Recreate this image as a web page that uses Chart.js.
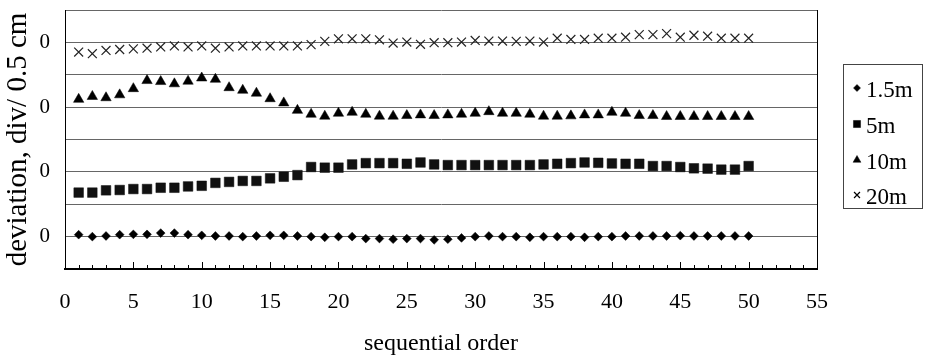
<!DOCTYPE html>
<html lang="en">
<head>
<meta charset="UTF-8">
<title>Deviation by sequential order</title>
<script src="https://cdn.jsdelivr.net/npm/chart.js"></script>
<style>
  html, body { margin: 0; padding: 0; background: #fff; }
</style>
</head>
<body>
<canvas id="devChart" width="927" height="358"></canvas>
<script>
// sequential order (x)
const order = [1, 2, 3, 4, 5, 6, 7, 8, 9, 10, 11, 12, 13, 14, 15, 16, 17, 18, 19, 20,
  21, 22, 23, 24, 25, 26, 27, 28, 29, 30, 31, 32, 33, 34, 35, 36, 37, 38, 39, 40,
  41, 42, 43, 44, 45, 46, 47, 48, 49, 50];

// each series is plotted on its own offset band (gridlines labelled "0")
const dev15 = [1.06, 1.00, 1.02, 1.06, 1.07, 1.07, 1.11, 1.11, 1.06, 1.04, 1.02, 1.02, 1.00, 1.02, 1.04, 1.04, 1.02, 1.00,
  0.98, 1.00, 1.00, 0.94, 0.94, 0.92, 0.94, 0.94, 0.90, 0.92, 0.96, 1.00, 1.02, 1.00, 1.00, 0.98, 1.00, 1.00, 1.00, 0.98, 1.00, 1.00,
  1.02, 1.02, 1.02, 1.02, 1.03, 1.02, 1.02, 1.02, 1.02, 1.02];
const dev5 = [2.36, 2.36, 2.43, 2.44, 2.47, 2.47, 2.51, 2.51, 2.55, 2.57, 2.66, 2.69, 2.72, 2.72, 2.80, 2.85, 2.90, 3.15,
  3.13, 3.13, 3.23, 3.27, 3.27, 3.27, 3.25, 3.29, 3.23, 3.21, 3.21, 3.21, 3.21, 3.21, 3.21, 3.21, 3.23, 3.25, 3.27, 3.29, 3.28, 3.26,
  3.25, 3.25, 3.18, 3.18, 3.15, 3.11, 3.10, 3.07, 3.07, 3.18];
const dev10 = [5.24, 5.33, 5.29, 5.38, 5.57, 5.82, 5.79, 5.72, 5.80, 5.90, 5.86, 5.60, 5.52, 5.43, 5.26, 5.13, 4.90, 4.78,
  4.72, 4.81, 4.84, 4.78, 4.72, 4.72, 4.74, 4.76, 4.74, 4.76, 4.78, 4.81, 4.86, 4.81, 4.81, 4.78, 4.72, 4.72, 4.73, 4.76, 4.76, 4.84,
  4.81, 4.74, 4.74, 4.71, 4.71, 4.71, 4.71, 4.71, 4.71, 4.71];
const dev20 = [6.70, 6.65, 6.75, 6.78, 6.80, 6.82, 6.86, 6.89, 6.86, 6.89, 6.82, 6.86, 6.89, 6.89, 6.89, 6.89, 6.89, 6.93,
  7.03, 7.11, 7.11, 7.11, 7.08, 6.98, 7.01, 6.94, 6.99, 6.99, 7.01, 7.06, 7.04, 7.04, 7.03, 7.04, 7.01, 7.13, 7.09, 7.09, 7.13, 7.13,
  7.16, 7.24, 7.24, 7.27, 7.16, 7.22, 7.19, 7.13, 7.13, 7.13];

const seriesNames = ['1.5m', '5m', '10m', '20m'];
const xTicks = [0, 5, 10, 15, 20, 25, 30, 35, 40, 45, 50, 55];

const serif = 'Liberation Serif';

function pts(ys) {
  return order.map((x, i) => ({ x: x, y: ys[i] }));
}

// box round the plot, inner tick marks and the boxed legend on the right
const framePlugin = {
  id: 'framePlugin',
  afterDraw(chart) {
    const ctx = chart.ctx;
    const area = chart.chartArea;
    const xs = chart.scales.x;
    ctx.save();
    ctx.strokeStyle = '#000';
    ctx.lineWidth = 1;
    ctx.beginPath();
    ctx.moveTo(area.right + 0.5, area.top);
    ctx.lineTo(area.right + 0.5, area.bottom);
    ctx.stroke();

    // minor ticks every 1, longer ones every 5, pointing up into the plot
    ctx.beginPath();
    for (let v = 1; v < 55; v++) {
      const px = Math.round(xs.getPixelForValue(v)) + 0.5;
      const len = v % 5 === 0 ? 7 : 4;
      ctx.moveTo(px, area.bottom);
      ctx.lineTo(px, area.bottom - len);
    }
    ctx.stroke();

    // legend
    const box = { left: 843.5, top: 64.5, width: 79, height: 144 };
    ctx.strokeStyle = '#444';
    ctx.strokeRect(box.left, box.top, box.width, box.height);
    const rowY = [90, 126, 162, 197];
    const legendSizes = [3.5, 5, 4.5, 4.2];
    ctx.font = '23px "' + serif + '"';
    ctx.textBaseline = 'middle';
    ctx.textAlign = 'left';
    chart.data.datasets.forEach((ds, i) => {
      ctx.fillStyle = '#000';
      ctx.strokeStyle = '#000';
      ctx.lineWidth = ds.pointStyle === 'crossRot' ? 1.2 : 0.5;
      Chart.helpers.drawPoint(ctx, {
        pointStyle: ds.pointStyle,
        radius: legendSizes[i],
        rotation: 0,
        borderWidth: ctx.lineWidth
      }, 857, rowY[i] - 2);
      ctx.fillStyle = '#000';
      ctx.fillText(ds.label, 866, rowY[i] + 1);
    });
    ctx.restore();
  }
};

const ctx = document.getElementById('devChart').getContext('2d');

new Chart(ctx, {
  type: 'scatter',
  data: {
    datasets: [
      { label: seriesNames[0], data: pts(dev15), pointStyle: 'rectRot', pointRadius: 4.4,
        backgroundColor: '#000', borderColor: '#000', borderWidth: 0.5 },
      { label: seriesNames[1], data: pts(dev5), pointStyle: 'rect', pointRadius: 6.8,
        backgroundColor: '#111', borderColor: '#111', borderWidth: 0.5 },
      { label: seriesNames[2], data: pts(dev10), pointStyle: 'triangle', pointRadius: 6,
        backgroundColor: '#000', borderColor: '#000', borderWidth: 0.5 },
      { label: seriesNames[3], data: pts(dev20), pointStyle: 'crossRot', pointRadius: 6.3,
        backgroundColor: '#222', borderColor: '#222', borderWidth: 1.2 }
    ]
  },
  options: {
    responsive: false,
    animation: false,
    devicePixelRatio: 1,
    layout: { padding: { top: 10, right: 110, left: 0, bottom: 0 } },
    plugins: {
      legend: { display: false },
      tooltip: { enabled: false }
    },
    scales: {
      x: {
        type: 'linear',
        min: 0,
        max: 55,
        afterFit: (s) => { s.height = 89; s.paddingLeft = 0; s.paddingRight = 0; },
        afterBuildTicks: (s) => { s.ticks = xTicks.map(v => ({ value: v })); },
        ticks: { color: '#000', padding: 20, maxRotation: 0, font: { family: serif, size: 22 } },
        grid: { drawOnChartArea: false, drawTicks: false },
        border: { color: '#000', width: 2 },
        title: {
          display: true,
          text: 'sequential order',
          color: '#000',
          font: { family: serif, size: 24 },
          padding: { top: 0, bottom: 0 }
        }
      },
      y: {
        min: 0,
        max: 8,
        afterFit: (s) => { s.width = 65; s.paddingTop = 0; s.paddingBottom = 0; },
        ticks: {
          stepSize: 1,
          color: '#000',
          padding: 15,
          font: { family: serif, size: 21 },
          callback: (v) => (v % 2 === 1 ? '0' : '')
        },
        grid: {
          drawTicks: false,
          color: (c) => (c.tick && c.tick.value === 0 ? 'rgba(0,0,0,0)' : '#666'),
          lineWidth: 1
        },
        border: { color: '#000', width: 1 },
        title: {
          display: true,
          text: 'deviation, div/ 0.5 cm',
          color: '#000',
          font: { family: serif, size: 29 },
          padding: { top: 1, bottom: 0 }
        }
      }
    }
  },
  plugins: [framePlugin]
});
</script>
</body>
</html>
